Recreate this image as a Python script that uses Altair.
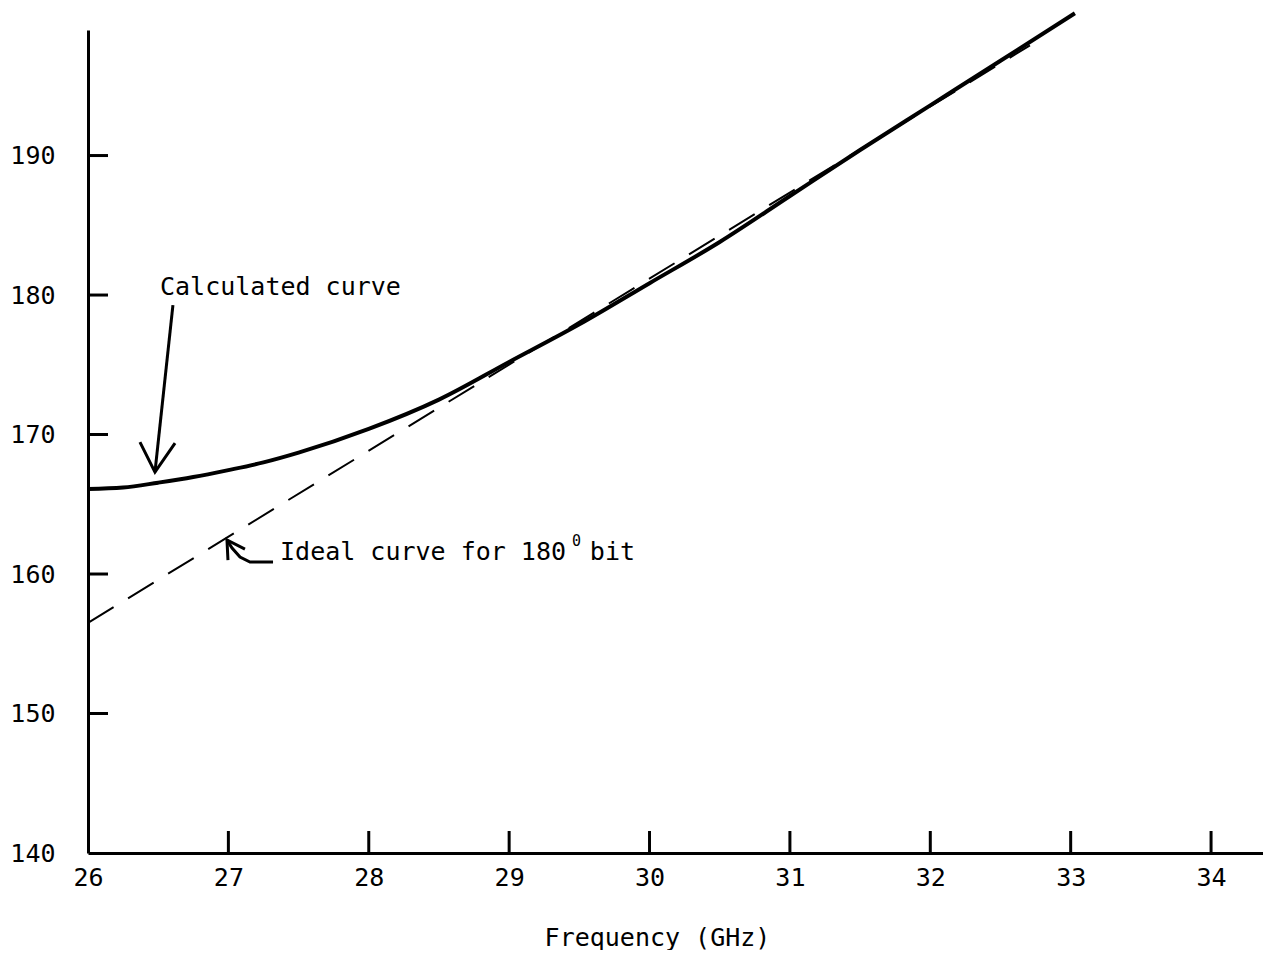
import altair as alt
import pandas as pd

# ---- data ----
calc_freq = [26.0, 26.25, 26.5, 26.75, 27.0, 27.25, 27.5, 28.0, 28.5, 29.0, 29.5,
             30.0, 30.5, 31.0, 31.5, 32.0, 32.5, 33.03]
calc_phase = [166.1, 166.2, 166.55, 166.95, 167.45, 168.0, 168.7, 170.4, 172.5, 175.2,
              177.9, 180.85, 183.8, 187.1, 190.4, 193.6, 196.8, 200.2]

ideal_freq = [26.0, 32.71]
ideal_phase = [156.5, 197.9]

x_tick_values = [26, 27, 28, 29, 30, 31, 32, 33, 34]
y_tick_values = [140, 150, 160, 170, 180, 190]
x_inner_ticks = [27, 28, 29, 30, 31, 32, 33, 34]
y_inner_ticks = [150, 160, 170, 180, 190]

# annotation arrows (segment id, order, freq, phase)
arrow_seg = ["a1", "a1", "a1h", "a1h", "a1h",
             "a2", "a2", "a2", "a2", "a2", "a2h", "a2h", "a2h"]
arrow_ord = [0, 1, 0, 1, 2,
             0, 1, 2, 3, 4, 0, 1, 2]
arrow_freq = [26.605, 26.477, 26.370, 26.477, 26.62,
              27.318, 27.154, 27.083, 27.026, 26.99, 26.997, 26.99, 27.118]
arrow_phase = [179.28, 167.31, 169.46, 167.31, 169.39,
               160.86, 160.86, 161.22, 161.86, 162.44, 161.0, 162.44, 161.79]

label_text = ["Calculated curve", "Ideal curve for 180", "bit"]
label_freq = [26.513, 27.368, 29.575]
label_phase = [180.0, 161.0, 161.0]
sup_text = ["0"]
sup_freq = [29.447]
sup_phase = [162.0]

FONT = "DejaVu Sans Mono"
W, H = 1175, 823

xs = alt.Scale(domain=[26, 34.37], nice=False, zero=False)
ys = alt.Scale(domain=[140, 199], nice=False, zero=False)

calc_df = pd.DataFrame({"freq": calc_freq, "phase": calc_phase})
ideal_df = pd.DataFrame({"freq": ideal_freq, "phase": ideal_phase})
arrow_df = pd.DataFrame({"seg": arrow_seg, "ord": arrow_ord,
                         "freq": arrow_freq, "phase": arrow_phase})
label_df = pd.DataFrame({"text": label_text, "freq": label_freq, "phase": label_phase})
sup_df = pd.DataFrame({"text": sup_text, "freq": sup_freq, "phase": sup_phase})
xt_df = pd.DataFrame({"freq": x_inner_ticks})
yt_df = pd.DataFrame({"phase": y_inner_ticks})

x_axis = alt.Axis(values=x_tick_values, format="d", ticks=False, grid=False, domain=True,
                  domainColor="black", domainWidth=3, labelFont=FONT, labelFontSize=25,
                  labelColor="black", labelPadding=12, labelFlush=False,
                  title="Frequency (GHz)", titleFont=FONT, titleFontSize=25,
                  titleFontWeight="normal", titleColor="black",
                  titleX=569, titleY=84, titleBaseline="middle", titleAlign="center")
y_axis = alt.Axis(values=y_tick_values, format="d", ticks=False, grid=False, domain=True,
                  domainColor="black", domainWidth=3, labelFont=FONT, labelFontSize=25,
                  labelColor="black", labelPadding=33, labelFlush=False, title=None)

base_x = alt.X("freq:Q", scale=xs, axis=x_axis)
base_y = alt.Y("phase:Q", scale=ys, axis=y_axis)

calc = alt.Chart(calc_df).mark_line(color="black", strokeWidth=4, interpolate="monotone").encode(
    x=base_x, y=base_y)

ideal = alt.Chart(ideal_df).mark_line(color="black", strokeWidth=2, strokeDash=[30, 17]).encode(
    x=alt.X("freq:Q", scale=xs), y=alt.Y("phase:Q", scale=ys))

arrows = alt.Chart(arrow_df).mark_line(color="black", strokeWidth=3, interpolate="linear").encode(
    x=alt.X("freq:Q", scale=xs), y=alt.Y("phase:Q", scale=ys),
    detail="seg:N", order="ord:Q")

labels = alt.Chart(label_df).mark_text(font=FONT, fontSize=25, align="left",
                                       baseline="alphabetic", color="black").encode(
    x=alt.X("freq:Q", scale=xs), y=alt.Y("phase:Q", scale=ys), text="text:N")

sup = alt.Chart(sup_df).mark_text(font=FONT, fontSize=15, align="left",
                                  baseline="alphabetic", color="black").encode(
    x=alt.X("freq:Q", scale=xs), y=alt.Y("phase:Q", scale=ys), text="text:N")

xticks = alt.Chart(xt_df).mark_rule(color="black", strokeWidth=3).encode(
    x=alt.X("freq:Q", scale=xs), y=alt.value(H), y2=alt.value(H - 22))

yticks = alt.Chart(yt_df).mark_rule(color="black", strokeWidth=3).encode(
    y=alt.Y("phase:Q", scale=ys), x=alt.value(0), x2=alt.value(20))

chart = alt.layer(calc, ideal, arrows, labels, sup, xticks, yticks).properties(
    width=W, height=H,
    background="white",
    autosize=alt.AutoSizeParams(type="none"),
    padding={"left": 80, "top": 22, "right": 0, "bottom": 97},
).configure_view(stroke=None)

chart.save("out.html", embed_options={"renderer": "svg", "actions": False})
